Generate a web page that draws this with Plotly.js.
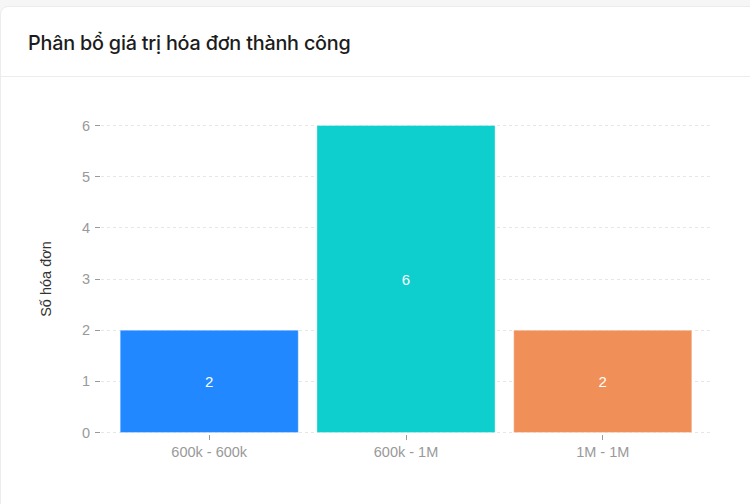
<!DOCTYPE html>
<html>
<head>
<meta charset="utf-8">
<script src="https://cdn.plot.ly/plotly-3.0.1.min.js"></script>
<style>
  html, body { margin: 0; padding: 0; }
  body { width: 750px; height: 504px; background: #f6f6f7; position: relative; overflow: hidden; }
  .card { position: absolute; left: 0; top: 6px; width: 760px; height: 520px; background: #fff;
          border: 1px solid #ececec; border-radius: 8px; box-sizing: border-box; }
  .card-head { height: 70px; border-bottom: 1px solid #ececec; box-sizing: border-box; }
  .card-head h3 { margin: 0; padding: 24px 0 0 27px; font-family: Inter, "Noto Sans", sans-serif;
                  font-weight: 500; font-size: 19.8px; color: #1c1c1c; letter-spacing: -0.2px; }
  #chart { position: absolute; left: 0; top: 0; width: 750px; height: 504px; }
</style>
</head>
<body>
<div class="card">
  <div class="card-head"><h3>Phân bổ giá trị hóa đơn thành công</h3></div>
</div>
<div id="chart"></div>
<script>
// khoảng giá trị hóa đơn và số hóa đơn
var ranges = ['600k - 600k', '600k - 1M', '1M - 1M'];
var counts = [2, 6, 2];
var barColors = ['#2288ff', '#0ecece', '#f09058'];
var yTicks = [0, 1, 2, 3, 4, 5, 6];

var trace = {
    x: ranges,
    y: counts,
    type: 'bar',
    text: counts.map(String),
    textposition: 'inside',
    insidetextanchor: 'middle',
    textfont: { color: '#ffffff', size: 15, family: 'Liberation Sans, Arial, sans-serif' },
    marker: {
        color: barColors,
        line: { color: 'rgba(255,255,255,0.35)', width: 1 }
    },
    hoverinfo: 'none'
};

var layout = {
    width: 750,
    height: 504,
    margin: { l: 101, r: 39, t: 124, b: 70 },
    paper_bgcolor: 'rgba(0,0,0,0)',
    plot_bgcolor: 'rgba(0,0,0,0)',
    showlegend: false,
    bargap: 0.095,
    font: { family: 'Liberation Sans, Arial, sans-serif', color: '#999999', size: 14.5 },
    xaxis: {
        range: [-0.55, 2.55],
        showgrid: false,
        zeroline: false,
        showline: false,
        ticks: 'outside',
        ticklen: 5,
        tickcolor: '#9a9a9a',
        tickfont: { size: 14.5, color: '#999999' },
        fixedrange: true
    },
    yaxis: {
        range: [-0.03, 6.03],
        tickvals: yTicks,
        showgrid: true,
        gridcolor: '#e6e6e6',
        griddash: '3px,3px',
        zeroline: false,
        showline: false,
        ticks: 'outside',
        ticklen: 5,
        tickcolor: '#9a9a9a',
        ticklabelstandoff: 2,
        tickfont: { size: 14.5, color: '#999999' },
        title: { text: 'Số hóa đơn', font: { size: 14.5, color: '#333333' }, standoff: 26 },
        fixedrange: true
    }
};

Plotly.newPlot('chart', [trace], layout, { displayModeBar: false, staticPlot: true });
</script>
</body>
</html>
